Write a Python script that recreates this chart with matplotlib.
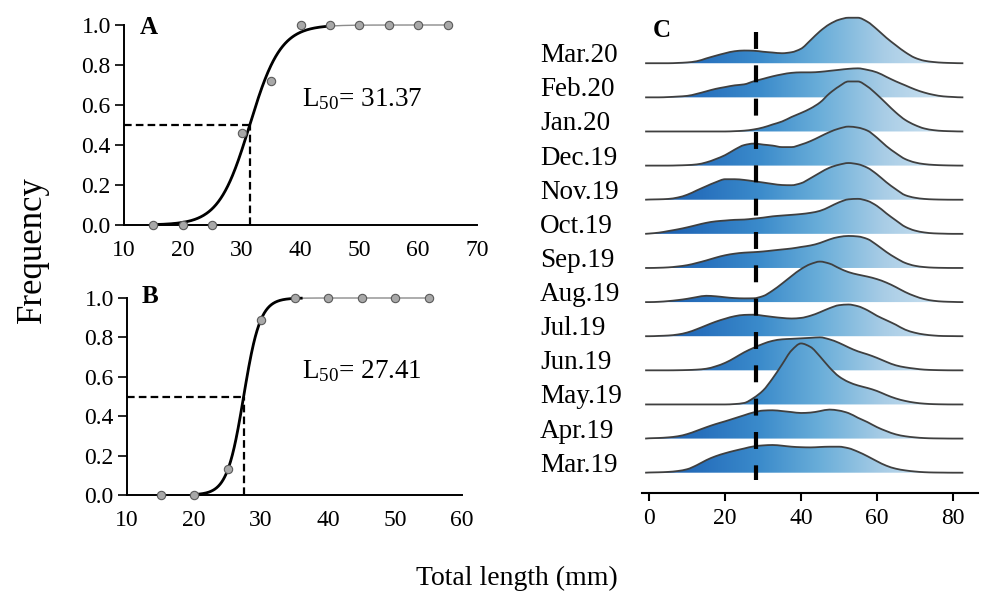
import numpy as np
import matplotlib
matplotlib.use('Agg')
import matplotlib.pyplot as plt
from matplotlib.colors import LinearSegmentedColormap
from matplotlib.patches import PathPatch
from matplotlib.path import Path
from matplotlib.transforms import blended_transform_factory

plt.rcParams['font.family'] = ['Liberation Serif', 'DejaVu Serif']
plt.rcParams['mathtext.fontset'] = 'custom'
plt.rcParams['mathtext.rm'] = 'Liberation Serif'
plt.rcParams['mathtext.it'] = 'Liberation Serif:italic'
plt.rcParams['mathtext.bf'] = 'Liberation Serif:bold'
plt.rcParams['lines.scale_dashes'] = False

# ---------------- Panel A / B data ----------------
a_length = [15, 20, 25, 30, 35, 40, 45, 50, 55, 60, 65]
a_freq = [0, 0, 0, 0.46, 0.72, 1, 1, 1, 1, 1, 1]
a_L50 = 31.37
a_slope = 0.38

b_length = [15, 20, 25, 30, 35, 40, 45, 50, 55]
b_freq = [0, 0, 0.13, 0.89, 1, 1, 1, 1, 1]
b_L50 = 27.41
b_slope = 0.81

# ---------------- Panel C data ----------------
months = ['Mar.19', 'Apr.19', 'May.19', 'Jun.19', 'Jul.19', 'Aug.19', 'Sep.19',
          'Oct.19', 'Nov.19', 'Dec.19', 'Jan.20', 'Feb.20', 'Mar.20']
length_grid = np.arange(0, 82.6, 2.5)   # 0 ... 82.5 mm
c_ref_length = 28

dens_mar19 = [0.2, 0.4, 0.8, 1.7, 3.5, 7.5, 12.5, 16.5, 19.5, 22, 24.2, 26.3, 27.3, 27.7, 27, 26,
              25.5, 25.3, 25.7, 26, 26, 24.5, 21, 16.5, 11.5, 7, 4, 2.3, 1.2, 0.5, 0.2, 0.1, 0, 0]
dens_apr19 = [0.3, 0.6, 1.2, 2.3, 4.5, 7.8, 11.3, 14.5, 17.3, 20.3, 23.3, 26.2, 28, 28.3, 27.5, 26.5,
              25.6, 26, 27.5, 29, 28, 25.5, 20.8, 16.5, 11.5, 7.5, 4.2, 2.3, 1.2, 0.5, 0.2, 0.1, 0, 0]
dens_may19 = [0, 0, 0, 0, 0, 0, 0, 0, 0, 0.4, 1.5, 6.5, 14, 26, 40, 54,
              61, 57.5, 48, 37, 28, 22.5, 19, 16.5, 13.5, 9.5, 6, 3.5, 1.8, 0.8, 0.3, 0.1, 0, 0]
dens_jun19 = [0, 0, 0, 0.1, 0.3, 0.7, 1.6, 4, 7.5, 12.5, 18, 22.5, 26.5, 29.5, 31, 31.5,
              32, 32.5, 33, 31, 27.5, 23, 19, 16, 12.5, 8.5, 5, 3, 1.7, 0.7, 0.3, 0.1, 0, 0]
dens_jul19 = [0, 0.3, 0.7, 1.7, 3.7, 7, 10.8, 14.5, 17.5, 20, 21.3, 21.5, 20.5, 19.3, 18.3, 17.7,
              18.3, 20.5, 24, 28, 31, 31.7, 30, 26, 20.5, 16, 11.5, 6.5, 3.5, 1.7, 0.7, 0.2, 0.1, 0]
dens_aug19 = [0, 0.3, 1, 2, 3.3, 5, 6.3, 5.8, 4.8, 4, 3.7, 3.8, 6, 11.5, 18.5, 26,
              33, 38, 40.5, 38.5, 34, 30, 27.5, 25.5, 23, 19.5, 15, 10, 6, 3, 1.3, 0.5, 0.2, 0]
dens_sep19 = [0, 0.2, 0.6, 1.5, 2.8, 5, 7.5, 10.3, 12.7, 14.3, 15.3, 15.8, 16.5, 17.5, 18.5, 19.5,
              21, 22.5, 25, 28.5, 31, 32, 31.5, 29, 23, 16, 10, 5, 2.2, 0.9, 0.3, 0.1, 0, 0]
dens_oct19 = [0.3, 1.2, 2.8, 4.5, 6.5, 8.8, 11, 12.5, 13.3, 14, 14.3, 15.2, 16.2, 17.5, 18.3, 19,
              19.8, 21, 23, 27, 31.5, 34.5, 35, 33, 28, 20.5, 13.5, 7, 3.3, 1.4, 0.5, 0.2, 0, 0]
dens_nov19 = [0.2, 0.4, 0.8, 2.2, 5, 9.3, 13.5, 17.5, 20.5, 20.5, 19.8, 18.5, 17.2, 15.8, 14.7, 14.5,
              16.5, 21.5, 27, 32, 35, 36.7, 35.5, 32, 25.5, 17.5, 10.5, 4.5, 2, 0.8, 0.3, 0.1, 0, 0]
dens_dec19 = [0, 0, 0, 0.2, 0.5, 1.2, 3.2, 6.5, 10.5, 16, 20.5, 22, 21, 20, 18.5, 18.5,
              21, 24.5, 29, 33.5, 37, 39, 38, 35, 28, 19.5, 12.5, 6.5, 3.2, 1.5, 0.7, 0.3, 0.1, 0]
dens_jan20 = [0, 0, 0, 0, 0, 0, 0, 0, 0, 0.3, 0.8, 2, 4, 7, 10, 14.5,
              18.5, 23, 29, 38, 45, 50, 50, 45, 37, 28, 19, 11.5, 6.5, 3, 1.3, 0.5, 0.2, 0]
dens_feb20 = [0, 0, 0.3, 0.8, 1.5, 3.5, 6, 8.5, 10.3, 12, 13, 16, 18.5, 21, 23, 24.5,
              25, 25, 25.5, 26.5, 27.5, 28.5, 29, 27.5, 25, 20.5, 16, 12, 8, 4.8, 2.5, 1, 0.4, 0]
dens_mar20 = [0, 0, 0, 0.3, 0.8, 2, 4.8, 7.5, 10, 12, 12.7, 12.5, 11.5, 10.7, 10, 11,
              14.5, 23, 32, 39, 43.5, 45.5, 45.5, 41.5, 34, 25.5, 18, 11, 5.5, 2.5, 1.2, 0.5, 0.2, 0]

densities = [dens_mar19, dens_apr19, dens_may19, dens_jun19, dens_jul19, dens_aug19, dens_sep19,
             dens_oct19, dens_nov19, dens_dec19, dens_jan20, dens_feb20, dens_mar20]

# ---------------- Figure ----------------
W, H = 983, 594
fig = plt.figure(figsize=(W / 100, H / 100), dpi=100)

def px_axes(l, t, r, b):
    return fig.add_axes([l / W, 1 - b / H, (r - l) / W, (b - t) / H])

TICK_FS = 17
LBL_FS = 19.5
DASH = (5.5, 3.0)

def logistic(x, L50, r):
    return 1.0 / (1.0 + np.exp(-r * (np.asarray(x) - L50)))

def maturity_panel(ax, lengths, freqs, L50, slope, xlim, black_range, label, txt_xy):
    ax.set_xlim(*xlim)
    ax.set_ylim(0, 1)
    xs = np.linspace(lengths[0], lengths[-1], 400)
    ax.plot(xs, logistic(xs, L50, slope), color='#8c8c8c', lw=1.0, zorder=2, clip_on=False)
    xb = np.linspace(black_range[0], black_range[1], 300)
    ax.plot(xb, logistic(xb, L50, slope), color='black', lw=2.0, zorder=3, clip_on=False)
    ax.plot(lengths, freqs, 'o', ms=6, mfc='#a8a8a8', mec='#5a5a5a', mew=0.8,
            zorder=5, clip_on=False)
    ax.plot([xlim[0], L50], [0.5, 0.5], color='black', lw=1.6, dashes=DASH, zorder=4)
    ax.plot([L50, L50], [0, 0.5], color='black', lw=1.6, dashes=DASH, zorder=4)
    ax.text(txt_xy[0], txt_xy[1], r'L$_{50}$= ' + f'{L50:.2f}', fontsize=LBL_FS, va='baseline')
    ax.text(label[1], label[2], label[0], fontsize=18, fontweight='bold', va='baseline')
    for s in ['top', 'right']:
        ax.spines[s].set_visible(False)
    for s in ['left', 'bottom']:
        ax.spines[s].set_linewidth(1.4)
    ax.set_yticks(np.arange(0, 1.01, 0.2))
    ax.set_yticklabels([f'{v:.1f}' for v in np.arange(0, 1.01, 0.2)])
    ax.set_xticks(np.arange(xlim[0], xlim[1] + 1, 10))
    ax.set_xticks([xlim[0], xlim[1]], minor=True)
    ax.tick_params(axis='y', direction='out', length=6.5, width=1.2, labelsize=TICK_FS, pad=3)
    ax.tick_params(axis='x', which='major', length=0, labelsize=TICK_FS, pad=11)
    ax.tick_params(axis='x', which='minor', direction='out', length=6, width=1.2)

axA = px_axes(124, 25, 477, 225)
maturity_panel(axA, a_length, a_freq, a_L50, a_slope, (10, 70), (15, 45),
               ('A', 12.7, 0.955), (40.3, 0.595))

axB = px_axes(127, 298, 462, 495)
maturity_panel(axB, b_length, b_freq, b_L50, b_slope, (10, 60), (20, 36),
               ('B', 12.2, 0.975), (36.1, 0.594))

fig.text(32 / W, 1 - 250 / H, 'Frequency', rotation=90, fontsize=25, ha='center', va='center')
fig.text(517 / W, 1 - 578 / H, 'Total length (mm)', fontsize=20, ha='center', va='center')

# ---------------- Panel C: ridgeline ----------------
axC = px_axes(642, 10, 978, 493)
x0, x1 = -1.1, 82.8
xlo, xhi = -1.93, 86.67
ylo, yhi = -0.595, 13.56
ROW_PX = 34.12
scale = 1.0 / ROW_PX


def smooth_path_vertices(x, y):
    """Monotone (Fritsch-Carlson) cubic Hermite segments as Bezier control points."""
    x = np.asarray(x, float)
    y = np.asarray(y, float)
    n = len(x)
    hk = np.diff(x)
    dk = np.diff(y) / hk
    m = np.zeros(n)
    m[0], m[-1] = dk[0], dk[-1]
    for k in range(1, n - 1):
        if dk[k - 1] * dk[k] <= 0:
            m[k] = 0.0
        else:
            w1 = 2 * hk[k] + hk[k - 1]
            w2 = hk[k] + 2 * hk[k - 1]
            m[k] = (w1 + w2) / (w1 / dk[k - 1] + w2 / dk[k])
    verts = [(x[0], y[0])]
    codes = [Path.MOVETO]
    for k in range(n - 1):
        h = hk[k]
        verts += [(x[k] + h / 3, y[k] + m[k] * h / 3),
                  (x[k + 1] - h / 3, y[k + 1] - m[k + 1] * h / 3),
                  (x[k + 1], y[k + 1])]
        codes += [Path.CURVE4] * 3
    return verts, codes


cmap = LinearSegmentedColormap.from_list(
    'ridge', [(0.0, '#1657aa'), (0.2, '#2a74bf'), (0.36, '#3b8bcb'),
              (0.55, '#6aaed9'), (0.75, '#a9cde6'), (1.0, '#d9eaf5')])
grad = np.linspace(0, 1, 512)[None, :]

xs_ext = np.r_[x0, length_grid, x1]
for i in range(len(months) - 1, -1, -1):
    h = np.r_[0, np.asarray(densities[i]) * scale, 0]
    base = i
    ys = base + h
    z = 50 - 2 * i
    verts, codes = smooth_path_vertices(xs_ext, ys)
    fverts = verts + [(x1, base), (x0, base), (x0, base)]
    fcodes = codes + [Path.LINETO, Path.LINETO, Path.CLOSEPOLY]
    fill_patch = PathPatch(Path(fverts, fcodes), facecolor='none', edgecolor='none')
    axC.add_patch(fill_patch)
    im = axC.imshow(grad, extent=[x0, x1, base - 0.02, base + h.max() + 0.05], aspect='auto',
                    cmap=cmap, origin='lower', zorder=z, interpolation='bilinear')
    im.set_clip_path(fill_patch)
    line_patch = PathPatch(Path(verts, codes), facecolor='none', edgecolor='#3f3f3f',
                           lw=1.3, zorder=z + 1, joinstyle='round')
    axC.add_patch(line_patch)

trans = blended_transform_factory(fig.transFigure, axC.transData)
for i, m in enumerate(months):
    axC.text(540 / W, i + 0.03, m, transform=trans, fontsize=LBL_FS, ha='left',
             va='baseline', clip_on=False)

axC.plot([c_ref_length, c_ref_length], [12.92, -0.21], color='black', lw=3.0,
         dashes=(12.2, 11.8), zorder=100, solid_capstyle='butt', dash_capstyle='butt')

axC.text(1.0, 12.77, 'C', fontsize=18, fontweight='bold', va='baseline')

axC.set_xlim(xlo, xhi)
axC.set_ylim(ylo, yhi)
axC.set_yticks([])
for s in ['top', 'right', 'left']:
    axC.spines[s].set_visible(False)
axC.spines['bottom'].set_linewidth(1.5)
axC.set_xticks([0, 20, 40, 60, 80])
axC.tick_params(axis='x', direction='out', length=6, width=1.5, labelsize=TICK_FS, pad=5)
axC.patch.set_alpha(0)

fig.savefig('out.png', dpi=100)
